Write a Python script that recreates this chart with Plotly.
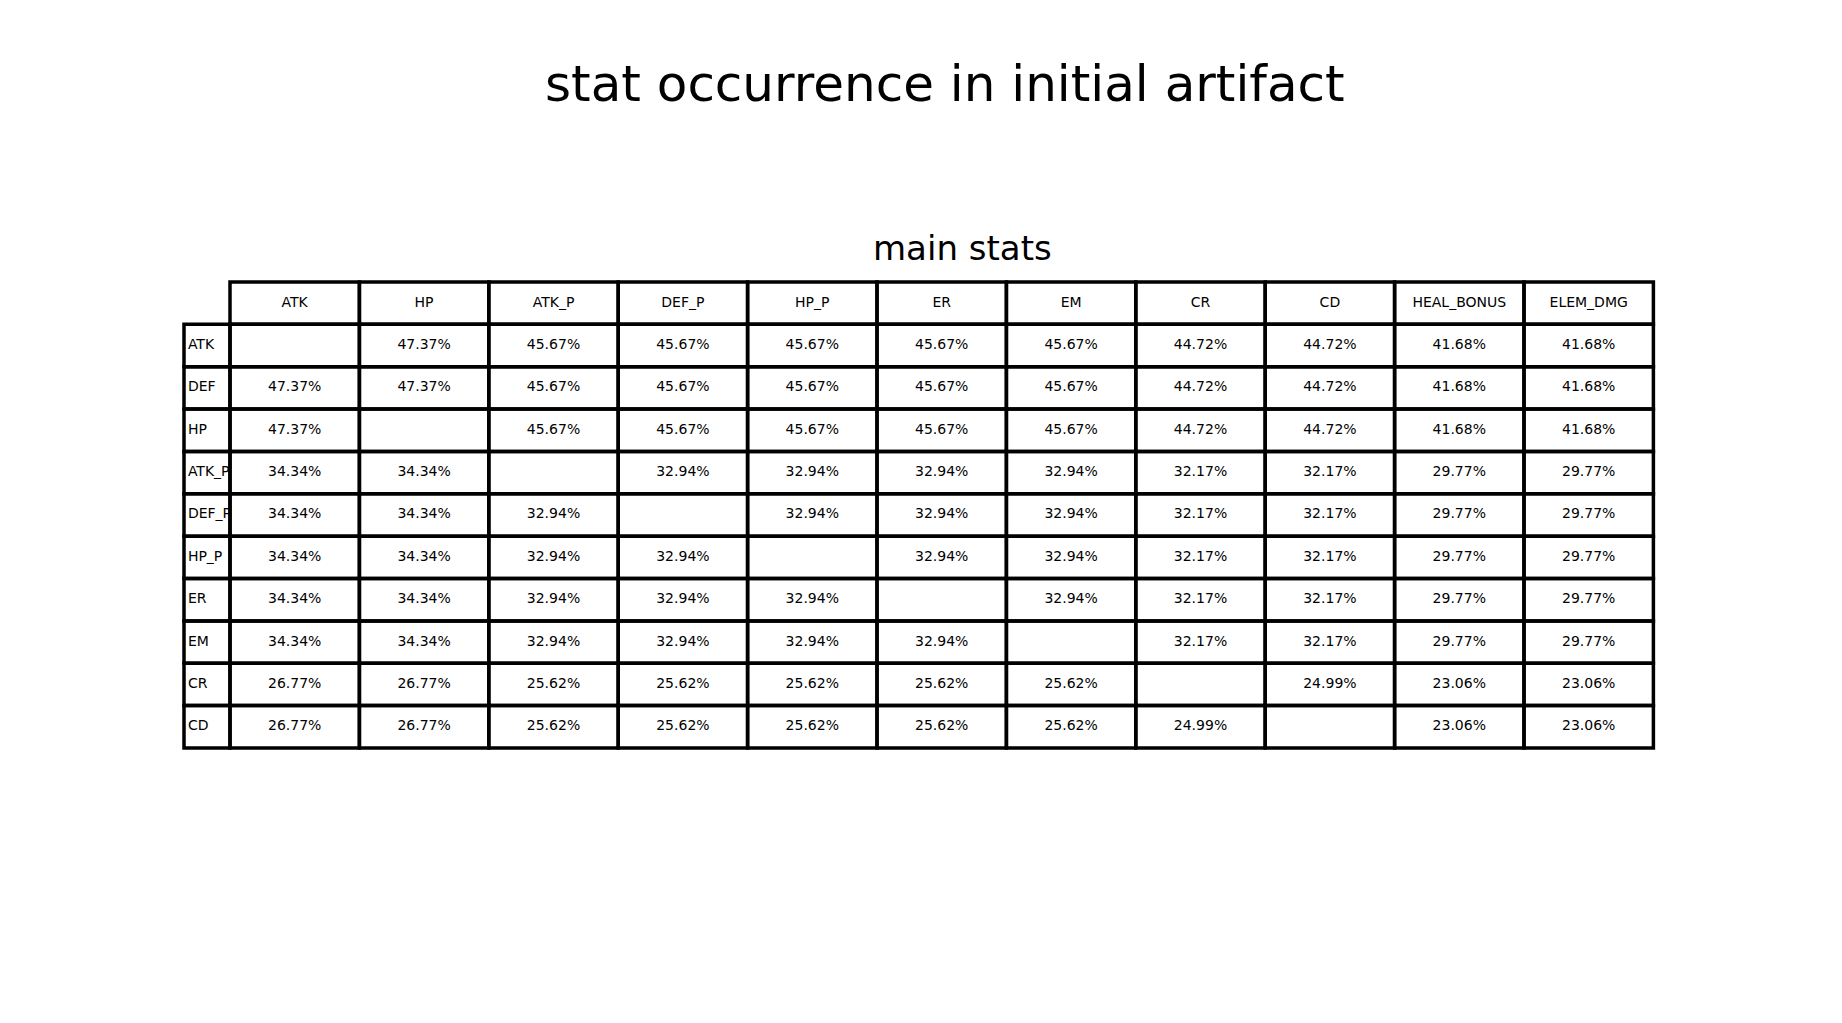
import plotly.graph_objects as go

col_labels = ["ATK", "HP", "ATK_P", "DEF_P", "HP_P", "ER", "EM", "CR", "CD", "HEAL_BONUS", "ELEM_DMG"]
row_labels = ["ATK", "DEF", "HP", "ATK_P", "DEF_P", "HP_P", "ER", "EM", "CR", "CD"]
cell_text = [
    ["", "47.37%", "45.67%", "45.67%", "45.67%", "45.67%", "45.67%", "44.72%", "44.72%", "41.68%", "41.68%"],
    ["47.37%", "47.37%", "45.67%", "45.67%", "45.67%", "45.67%", "45.67%", "44.72%", "44.72%", "41.68%", "41.68%"],
    ["47.37%", "", "45.67%", "45.67%", "45.67%", "45.67%", "45.67%", "44.72%", "44.72%", "41.68%", "41.68%"],
    ["34.34%", "34.34%", "", "32.94%", "32.94%", "32.94%", "32.94%", "32.17%", "32.17%", "29.77%", "29.77%"],
    ["34.34%", "34.34%", "32.94%", "", "32.94%", "32.94%", "32.94%", "32.17%", "32.17%", "29.77%", "29.77%"],
    ["34.34%", "34.34%", "32.94%", "32.94%", "", "32.94%", "32.94%", "32.17%", "32.17%", "29.77%", "29.77%"],
    ["34.34%", "34.34%", "32.94%", "32.94%", "32.94%", "", "32.94%", "32.17%", "32.17%", "29.77%", "29.77%"],
    ["34.34%", "34.34%", "32.94%", "32.94%", "32.94%", "32.94%", "", "32.17%", "32.17%", "29.77%", "29.77%"],
    ["26.77%", "26.77%", "25.62%", "25.62%", "25.62%", "25.62%", "25.62%", "", "24.99%", "23.06%", "23.06%"],
    ["26.77%", "26.77%", "25.62%", "25.62%", "25.62%", "25.62%", "25.62%", "24.99%", "", "23.06%", "23.06%"],
]

W, H = 1842, 1023
x0_px, col_px = 222, 129.4
y0_px, row_px = 274, 42.36
lab_w = 46 / col_px

fig = go.Figure()
shapes = []
line = dict(color="black", width=3.5)

# header row
for j, c in enumerate(col_labels):
    shapes.append(dict(type="rect", x0=j, x1=j + 1, y0=0, y1=1, line=line))
fig.add_trace(go.Scatter(
    x=[j + 0.5 for j in range(len(col_labels))], y=[0.5] * len(col_labels),
    text=col_labels, mode="text", textfont=dict(size=14, color="black")))

# row labels
for i, r in enumerate(row_labels):
    shapes.append(dict(type="rect", x0=-lab_w, x1=0, y0=i + 1, y1=i + 2, line=line))
fig.add_trace(go.Scatter(
    x=[-lab_w + 0.03] * len(row_labels), y=[i + 1.5 for i in range(len(row_labels))],
    text=row_labels, mode="text", textposition="middle right",
    textfont=dict(size=14, color="black")))

# body
xs, ys, ts = [], [], []
for i, row in enumerate(cell_text):
    for j, t in enumerate(row):
        shapes.append(dict(type="rect", x0=j, x1=j + 1, y0=i + 1, y1=i + 2, line=line))
        xs.append(j + 0.5)
        ys.append(i + 1.5)
        ts.append(t)
fig.add_trace(go.Scatter(x=xs, y=ys, text=ts, mode="text",
                         textfont=dict(size=14, color="black")))

fig.update_layout(
    width=W, height=H,
    margin=dict(l=0, r=0, t=0, b=0),
    plot_bgcolor="white", paper_bgcolor="white",
    showlegend=False,
    shapes=shapes,
    font=dict(family="DejaVu Sans"),
    xaxis=dict(range=[-x0_px / col_px, (W - x0_px) / col_px], visible=False),
    yaxis=dict(range=[(H - y0_px) / row_px, -y0_px / row_px], visible=False),
    annotations=[
        dict(text="stat occurrence in initial artifact", x=937 / W, y=1 - 45 / H,
             xref="paper", yref="paper", showarrow=False,
             font=dict(size=50, color="black")),
        dict(text="main stats", x=954 / W, y=1 - 218 / H,
             xref="paper", yref="paper", showarrow=False,
             font=dict(size=34, color="black")),
    ],
)

fig.write_html("out.html")
